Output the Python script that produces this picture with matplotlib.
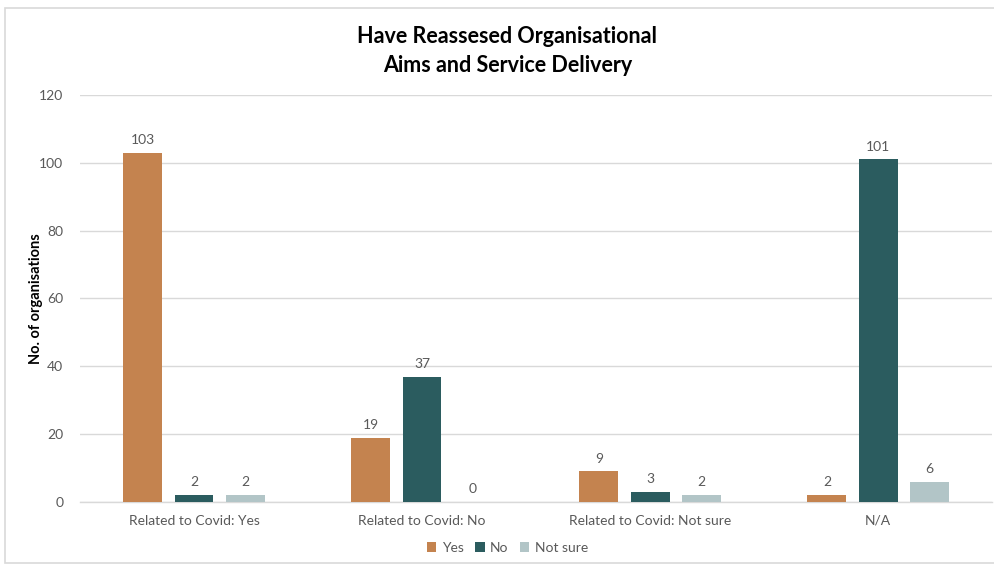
import matplotlib
matplotlib.use("Agg")
import matplotlib.pyplot as plt
from matplotlib.patches import Rectangle
import numpy as np

categories = ["Related to Covid: Yes", "Related to Covid: No",
              "Related to Covid: Not sure", "N/A"]
series_names = ["Yes", "No", "Not sure"]
yes_values = [103, 19, 9, 2]
no_values = [2, 37, 3, 101]
not_sure_values = [2, 0, 2, 6]
y_ticks = [0, 20, 40, 60, 80, 100, 120]

colors = ["#C4834F", "#2B5C5F", "#B2C5C7"]
text_gray = "#595959"

plt.rcParams["font.family"] = ["Lato", "DejaVu Sans"]

fig = plt.figure(figsize=(9.95, 5.64), dpi=100)
fig.patches.append(Rectangle((0.005, 0.002), 0.995, 0.984, transform=fig.transFigure,
                             fill=False, edgecolor="#D9D9D9", linewidth=1.2))

ax = fig.add_axes([0.0804, 0.1099, 0.9166, 0.7217])
x = np.arange(len(categories))
width = 0.171
step = 0.224
for i, (vals, name, col) in enumerate(zip([yes_values, no_values, not_sure_values],
                                          series_names, colors)):
    pos = x + (i - 1) * step
    ax.bar(pos, vals, width, color=col, label=name, zorder=3)
    for p, v in zip(pos, vals):
        ax.text(p, v + 2.0, str(v), ha="center", va="bottom", fontsize=10,
                color=text_gray)

ax.set_xlim(-0.5, len(categories) - 0.5)
ax.set_ylim(0, 120)
ax.set_yticks(y_ticks)
ax.set_xticks(x)
ax.set_xticklabels(categories)
ax.tick_params(axis="both", length=0, labelsize=10, labelcolor=text_gray)
ax.tick_params(axis="y", pad=12)
ax.tick_params(axis="x", pad=9)
ax.yaxis.grid(True, color="#D9D9D9", linewidth=1, zorder=0)
for s in ["top", "right", "left"]:
    ax.spines[s].set_visible(False)
ax.spines["bottom"].set_color("#D9D9D9")
ax.spines["bottom"].set_linewidth(1)

ax.set_ylabel("No. of organisations", fontsize=10.5, fontweight="bold",
              color="black", labelpad=-3)

fig.text(0.51, 0.91, "Have Reassesed Organisational\nAims and Service Delivery",
         ha="center", va="center", fontsize=15.5, fontweight="bold",
         color="black", linespacing=1.45)

fig.legend(loc="center", bbox_to_anchor=(0.51, 0.028), ncol=3, frameon=False,
           fontsize=10, handlelength=0.7, handleheight=0.7, handletextpad=0.4,
           columnspacing=0.8, labelcolor=text_gray)

fig.savefig("out.png", dpi=100)
